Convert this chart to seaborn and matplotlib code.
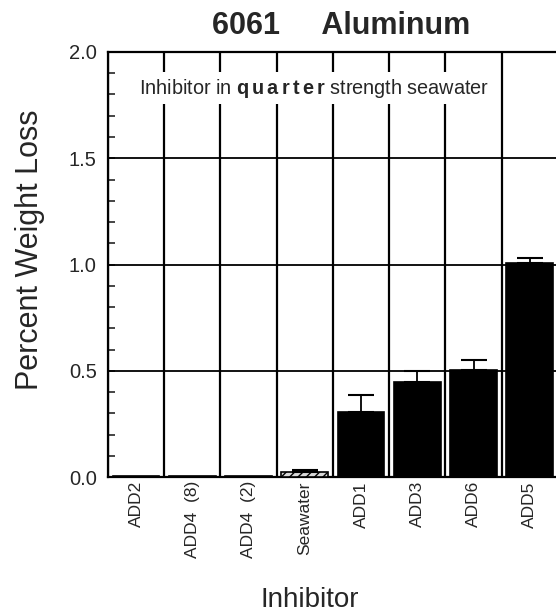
import numpy as np
import pandas as pd
import seaborn as sns
import matplotlib
matplotlib.use("Agg")
import matplotlib.pyplot as plt

# values
inhibitors = ["ADD2", "ADD4  (8)", "ADD4  (2)", "Seawater", "ADD1", "ADD3", "ADD6", "ADD5"]
weight_loss = [0.006, 0.004, 0.003, 0.022, 0.305, 0.448, 0.505, 1.005]
upper_err = [0.0, 0.0, 0.0, 0.010, 0.082, 0.052, 0.047, 0.025]
bar_colors = ["black", "black", "black", "#d8d8d8", "black", "black", "black", "black"]

sns.set_style("ticks")
plt.rcParams['font.family'] = ['Liberation Sans', 'DejaVu Sans']
plt.rcParams['mathtext.fontset'] = 'custom'
plt.rcParams['mathtext.rm'] = 'Liberation Sans'
plt.rcParams['mathtext.bf'] = 'Liberation Sans:bold'

df = pd.DataFrame({"Inhibitor": inhibitors, "loss": weight_loss, "err": upper_err})

fig = plt.figure(figsize=(5.56, 6.16), dpi=100)
ax = fig.add_axes([0.194, 0.2256, 0.8094, 0.690])

sns.barplot(data=df, x="Inhibitor", y="loss", hue="Inhibitor", palette=bar_colors,
            legend=False, width=0.83, edgecolor="black", linewidth=1.2, ax=ax, zorder=3)
for patch, name in zip(ax.patches, inhibitors):
    if name == "Seawater":
        patch.set_hatch("////")

# upper-only error bars
has_err = df["err"] > 0
xs = np.arange(len(df))[has_err]
ax.errorbar(xs, df["loss"][has_err], yerr=[np.zeros(has_err.sum()), df["err"][has_err]],
            fmt="none", ecolor="black", elinewidth=1.3, capsize=9.5, capthick=1.5, zorder=4)

# separators between categories and horizontal grid
n = len(inhibitors)
ax.vlines(np.arange(n) - 0.5, 0, 2.0, colors="black", linewidth=1.6, zorder=2)
for yv in [0.5, 1.0, 1.5]:
    ax.axhline(yv, color="black", linewidth=1.3, zorder=1)

ax.set_xlim(-0.5, n - 0.5)
ax.set_ylim(0, 2.0)
ax.set_yticks([0.0, 0.5, 1.0, 1.5, 2.0])
ax.set_yticklabels(["0.0", "0.5", "1.0", "1.5", "2.0"], fontsize=14.5)
ax.set_yticks(np.arange(0, 2.01, 0.1), minor=True)
ax.tick_params(axis="y", which="both", direction="in", length=5, width=1.2, pad=8)
ax.tick_params(axis="x", length=0, pad=3)
ax.set_xticks(range(n))
ax.set_xticklabels(inhibitors, rotation=90, fontsize=12.5, va="top")
ax.set_xlabel("")
ax.set_ylabel("")
for sp in ax.spines.values():
    sp.set_linewidth(1.6)
    sp.set_color("black")

ax.text((314 - 108) / 450, 0.915,
        r"Inhibitor in $\mathbf{q\,u\,a\,r\,t\,e\,r}$ strength seawater",
        transform=ax.transAxes, ha="center", va="center", fontsize=14.3,
        bbox=dict(facecolor="white", edgecolor="none", pad=3), zorder=5)

fig.text(341 / 556, 1 - 26 / 616, "6061     Aluminum", ha="center", va="center",
         fontsize=22, fontweight="bold")
fig.text(30 / 556, 1 - 250 / 616, "Percent Weight Loss", rotation=90,
         ha="center", va="center", fontsize=22)
fig.text(310 / 556, 1 - 600 / 616, "Inhibitor", ha="center", va="center", fontsize=20)

fig.savefig("out.png", dpi=100)
